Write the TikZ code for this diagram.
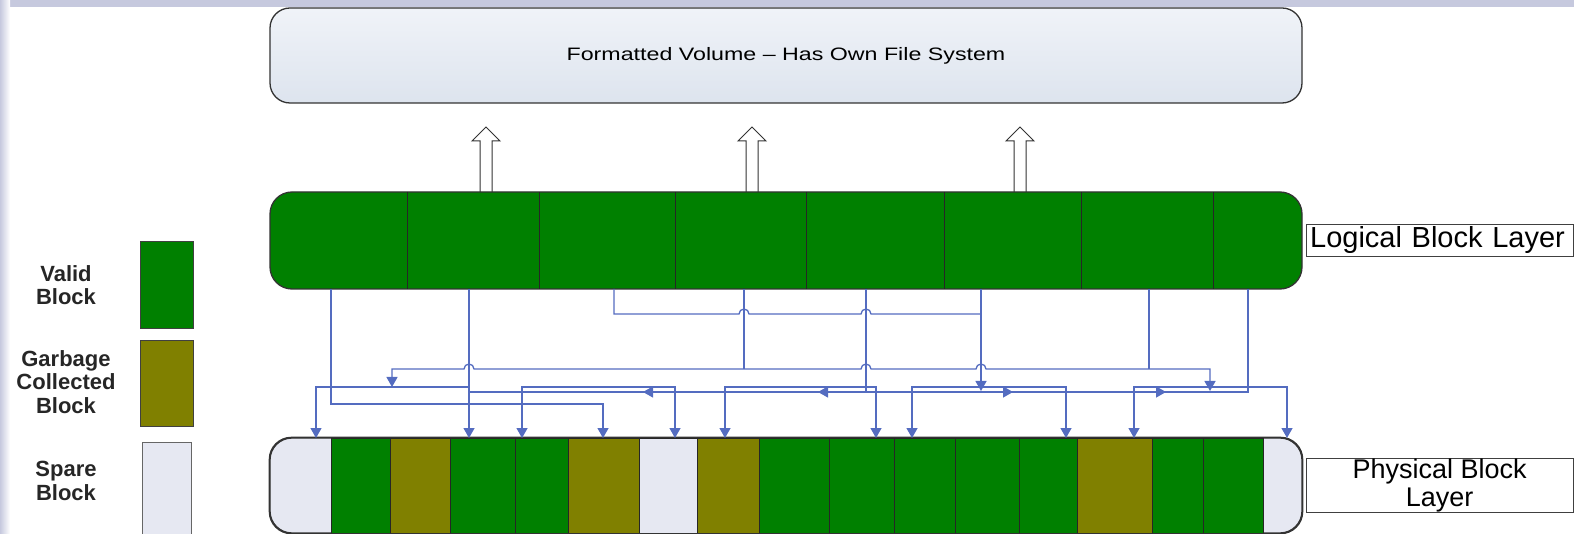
\documentclass[tikz,border=0pt]{standalone}
\usepackage{fontspec}
\setmainfont{Liberation Sans}
\usepackage{graphicx}
\usepackage{tikz}
\usetikzlibrary{arrows.meta, positioning, decorations.markings}

\definecolor{vgreen}{RGB}{0,128,0}
\definecolor{golive}{RGB}{128,128,0}
\definecolor{spare}{RGB}{230,232,242}
\definecolor{wireblue}{RGB}{84,108,192}
\definecolor{frame}{RGB}{198,201,222}
\definecolor{voltop}{RGB}{240,243,248}
\definecolor{volbot}{RGB}{221,228,238}

\tikzset{
  layer/.style={draw=black!80, line width=1.3pt, rounded corners=22pt, minimum width=1032pt, inner sep=0pt},
  blk/.style={draw=black!85, line width=1pt, minimum height=95pt, inner sep=0pt, anchor=north west},
  key/.style={draw=black!75, line width=1pt, minimum width=53pt, inner sep=0pt},
  keytxt/.style={font=\fontsize{22}{23.5}\selectfont\bfseries, text=black!85, align=center},
  lbl/.style={draw=black!75, line width=1pt, fill=white, minimum width=267pt, inner sep=0pt},
  wire/.style={color=wireblue, line width=1.3pt},
  hollow/.style={draw=black!80, line width=1pt, fill=white},
}

\begin{document}
\begin{tikzpicture}[x=1pt, y=-1pt, >={Triangle[width=11pt,length=10pt]}]
    \useasboundingbox (0,0) rectangle (1574,534);
    % window frame
    \fill[frame] (0,0) rectangle (1574,7);
    \fill[left color=frame, right color=white] (0,0) rectangle (10,534);

    % volume on top
    \node[layer, top color=voltop, bottom color=volbot, minimum height=95pt, rounded corners=20pt] (vol) at (786,55.5)
        {\fontsize{18}{20}\selectfont\scalebox{1.29}[1]{Formatted Volume – Has Own File System}};
    \foreach \x in {486,752,1020}
        \draw[hollow] (\x-6,192) -- (\x-6,141) -- (\x-14,141) -- (\x,127) -- (\x+14,141) -- (\x+6,141) -- (\x+6,192);

    % logical layer
    \node[layer, fill=vgreen, minimum height=97pt] (lgl) at (786,240.5) {};
    \foreach \x in {407,539,675,806,944,1081,1213}
        \draw[black!85, line width=1pt] (\x,192) -- (\x,289);
    \node[lbl, right=3pt of lgl, minimum height=32pt, font=\fontsize{29}{30}\selectfont, text width=259pt, align=left] (lbllog) {Logical Block Layer};

    % physical layer
    \node[layer, fill=spare, minimum height=95pt] (phy) at (786,485.5) {};
    \foreach \i/\a/\w/\c in {2/331/59/vgreen, 3/390/60/golive, 4/450/65/vgreen, 5/515/53/vgreen,
                            6/568/71/golive, 7/639/58/spare, 8/697/62/golive, 9/759/70/vgreen,
                            10/829/65/vgreen, 11/894/61/vgreen, 12/955/64/vgreen, 13/1019/58/vgreen,
                            14/1077/75/golive, 15/1152/51/vgreen, 16/1203/60/vgreen}
        \node[blk, fill=\c, minimum width=\w pt] (pb\i) at (\a,438) {};
    \draw[black!80, line width=1.3pt, rounded corners=22pt] (phy.north west) rectangle (phy.south east);
    \node[lbl, right=3pt of phy, minimum height=53pt, font=\fontsize{27}{28.6}\selectfont, align=center] (lblphy) {Physical Block\\Layer};

    % legend
    \node[key, fill=vgreen, minimum height=87pt] (kval) at (166.5,285.5) {};
    \node[key, fill=golive, minimum height=85pt, below=11pt of kval] (kgar) {};
    \node[key, fill=spare, draw=black!60, minimum width=49pt, minimum height=96pt, below=15pt of kgar] (kspa) {};
    \node[keytxt] (tval) at (66,285) {Valid\\Block};
    \node[keytxt] (tgar) at (66,382) {Garbage\\Collected\\Block};
    \node[keytxt] (tspa) at (66,481) {Spare\\Block};

    % wire ends
    \foreach \n/\x in {1/331,2/469,3/614,4/744,5/866,6/981,7/1149,8/1248}
        \coordinate (s\n) at (\x,289);
    \foreach \n/\x in {1/316,2/469,3/522,4/603,5/675,6/725,7/876,8/912,9/1066,10/1134,11/1287}
        \coordinate (t\n) at (\x,438);
    \coordinate (m1) at (392,387);
    \coordinate (m2) at (1210,391);
    \coordinate (m3) at (981,391);

    % logical -> physical mapping
    \draw[wire,->] (s1) |- (603,404) -- (t4);
    \draw[wire,->] (s2) -- (t2);
    \draw[wire] (s3) |- (739,314) arc[start angle=180,end angle=360,radius=5] -- (861,314)
        arc[start angle=180,end angle=360,radius=5] -- (981,314);
    \draw[wire] (s4) -- (744,369);
    \draw[wire] (s5) -- (866,392);
    \draw[wire,->] (s6) -- (m3);
    \draw[wire] (s7) -- (1149,369);
    \draw[wire, postaction={decorate}, decoration={markings,
            mark=at position 185pt with {\arrowreversed{>}},
            mark=at position 338pt with {\arrowreversed{>}},
            mark=at position 533pt with {\arrow{>}},
            mark=at position 708pt with {\arrow{>}}}]
        (s8) |- (469,392);
    \draw[wire,<->] (m1) |- (464,369) arc[start angle=180,end angle=360,radius=5] -- (861,369)
        arc[start angle=180,end angle=360,radius=5] -- (976,369)
        arc[start angle=180,end angle=360,radius=5] -- (1210,369) -- (m2);
    \draw[wire,<-] (t1) |- (469,387);
    \draw[wire,<->] (t3) |- (600,387) -| (t5);
    \draw[wire,<->] (t6) |- (800,387) -| (t7);
    \draw[wire,<->] (t8) |- (990,387) -| (t9);
    \draw[wire,<->] (t10) |- (1200,387) -| (t11);
\end{tikzpicture}
\end{document}
